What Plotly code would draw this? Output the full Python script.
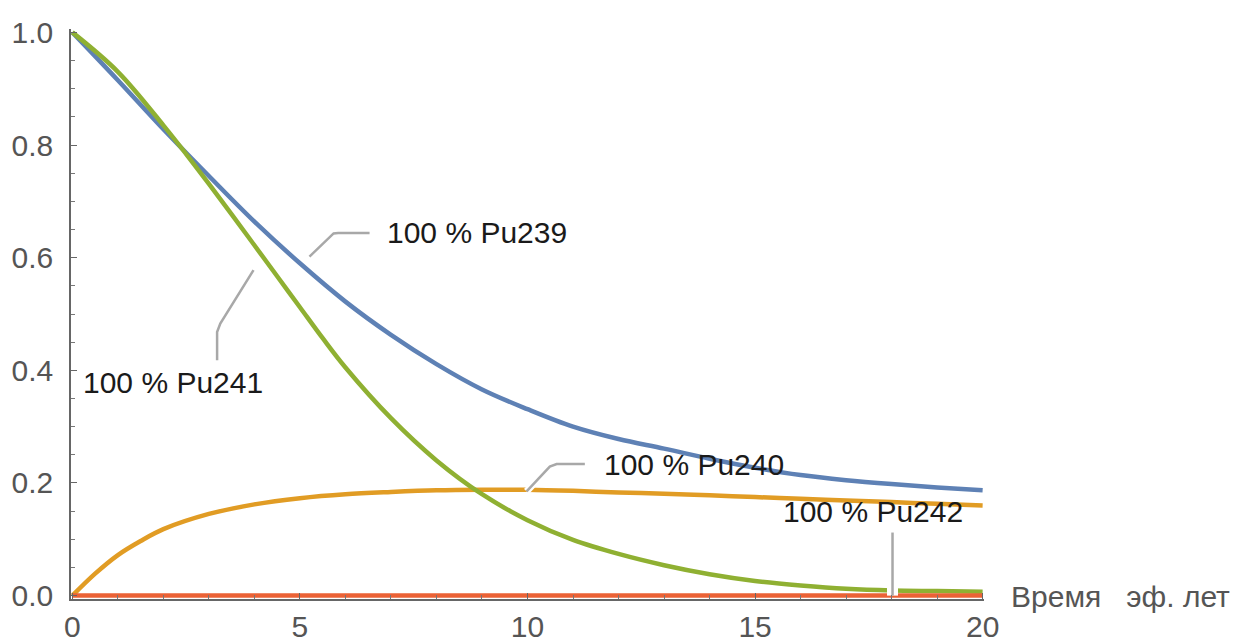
import plotly.graph_objects as go

# ---- data ----
t_years = [0, 1, 2, 3, 4, 5, 6, 7, 8, 9, 10, 11, 12, 13, 14, 15, 16, 17, 18, 19, 20]
pu239 = [1.0, 0.915, 0.828, 0.745, 0.664, 0.59, 0.522, 0.463, 0.411, 0.366, 0.331,
         0.30, 0.278, 0.261, 0.243, 0.227, 0.214, 0.205, 0.198, 0.192, 0.187]
t_pu241 = [0, 1, 2, 2.5, 3, 3.5, 4, 4.5, 5, 5.5, 6, 7, 8, 9, 10, 11, 12, 13, 14, 15, 16, 17, 18, 19, 20]
pu241 = [1.0, 0.93, 0.835, 0.784, 0.731, 0.677, 0.622, 0.567, 0.512, 0.457, 0.405, 0.315,
         0.24, 0.18, 0.134, 0.099, 0.074, 0.054, 0.038, 0.026, 0.018, 0.012, 0.009, 0.008, 0.007]
t_pu240 = [0, 0.5, 1, 1.5, 2, 3, 4, 5, 6, 7, 8, 9, 10, 11, 12, 13, 14, 15, 16, 17, 18, 19, 20]
pu240 = [0.0, 0.039, 0.072, 0.097, 0.118, 0.145, 0.162, 0.173, 0.180, 0.184, 0.187, 0.188,
         0.188, 0.186, 0.183, 0.181, 0.178, 0.175, 0.172, 0.169, 0.166, 0.163, 0.160]
pu242 = [0.0] * len(t_years)

labels = ["100 % Pu239", "100 % Pu241", "100 % Pu240", "100 % Pu242"]
label_x = [6.89, 0.22, 11.66, 15.59]
label_y = [0.644, 0.378, 0.232, 0.149]

leader_239_x = [5.21, 5.74, 5.84, 6.53]
leader_239_y = [0.602, 0.643, 0.644, 0.644]
leader_241_x = [3.98, 3.25, 3.18, 3.18]
leader_241_y = [0.578, 0.483, 0.468, 0.418]
leader_240_x = [9.98, 10.49, 10.64, 11.26]
leader_240_y = [0.185, 0.229, 0.2335, 0.2335]
leader_242_x = [18.02, 18.02]
leader_242_y = [0.112, 0.0]

x_ticks = [0, 5, 10, 15, 20]
y_ticks = [0.0, 0.2, 0.4, 0.6, 0.8, 1.0]
y_tick_text = ["0.0", "0.2", "0.4", "0.6", "0.8", "1.0"]
x_title = "Время\u00a0\u00a0\u00a0эф. лет"

BLUE = "#5E81B5"
ORANGE = "#E19C24"
GREEN = "#8FB032"
RED = "#EB6235"
LEADER = "#A8A8A8"
FONT = "Liberation Sans, Arial, sans-serif"

fig = go.Figure()

fig.add_trace(go.Scatter(x=t_years, y=pu239, mode="lines",
                         line=dict(color=BLUE, width=4.5, shape="spline", smoothing=1.0)))
fig.add_trace(go.Scatter(x=t_pu240, y=pu240, mode="lines",
                         line=dict(color=ORANGE, width=4.5, shape="spline", smoothing=1.0)))
fig.add_trace(go.Scatter(x=t_pu241, y=pu241, mode="lines",
                         line=dict(color=GREEN, width=4.5, shape="spline", smoothing=1.0)))
fig.add_trace(go.Scatter(x=t_years, y=pu242, mode="lines",
                         line=dict(color=RED, width=4.5)))

leaders = [(leader_239_x, leader_239_y, 7), (leader_241_x, leader_241_y, 7),
           (leader_240_x, leader_240_y, 7), (leader_242_x, leader_242_y, 11)]
for lx, ly, halo in leaders:
    fig.add_trace(go.Scatter(x=lx, y=ly, mode="lines",
                             line=dict(color="white", width=halo)))
    fig.add_trace(go.Scatter(x=lx, y=ly, mode="lines",
                             line=dict(color=LEADER, width=2.5)))

for txt, lx, ly in zip(labels, label_x, label_y):
    fig.add_annotation(x=lx, y=ly, xref="x", yref="y", text=txt, showarrow=False,
                       xanchor="left", yanchor="middle", borderpad=0,
                       font=dict(family=FONT, size=30, color="#1a1a1a"))

W, H = 1238, 642
x0_px, x1_px = 72, 983
y0_px, y1_px = 596, 32
xr = [-0.03, 20.03]
yr = [-0.006, 1.006]
ppx = (x1_px - x0_px) / 20.0
ppy = (y0_px - y1_px) / 1.0
left = x0_px + xr[0] * ppx
right = x0_px + xr[1] * ppx
top = y1_px - (yr[1] - 1.0) * ppy
bottom = y0_px - yr[0] * ppy

fig.add_annotation(x=(1009 - left) / (right - left), y=(bottom - 597) / (bottom - top),
                   xref="paper", yref="paper", text=x_title,
                   showarrow=False, xanchor="left", yanchor="middle",
                   font=dict(family=FONT, size=30, color="#555555"))

fig.update_layout(
    width=W, height=H,
    margin=dict(l=left, r=W - right, t=top, b=H - bottom, pad=0, autoexpand=False),
    paper_bgcolor="white", plot_bgcolor="white",
    showlegend=False,
    font=dict(family=FONT, size=30, color="#555555"),
    xaxis=dict(range=xr, tickvals=x_ticks, ticktext=[str(v) for v in x_ticks],
               automargin=False,
               showgrid=False, zeroline=False, showline=True, linecolor="#666666",
               linewidth=1.5, ticks="inside", ticklen=6, tickwidth=1.2, tickcolor="#666666",
               minor=dict(ticks="inside", dtick=1, ticklen=4, tickwidth=1, tickcolor="#777777"),
               layer="above traces",
               tickfont=dict(family=FONT, size=30, color="#555555"), ticklabelstandoff=0),
    yaxis=dict(range=yr, tickvals=y_ticks, ticktext=y_tick_text,
               automargin=False,
               showgrid=False, zeroline=False, showline=True, linecolor="#666666",
               linewidth=1.5, ticks="inside", ticklen=6, tickwidth=1.2, tickcolor="#666666",
               minor=dict(ticks="inside", dtick=0.05, ticklen=4, tickwidth=1, tickcolor="#777777"),
               tickfont=dict(family=FONT, size=30, color="#555555"), ticklabelstandoff=10),
)

fig.write_html(
    "out.html",
    config={"displayModeBar": False},
    post_script="document.body.style.margin='0';document.body.style.overflow='hidden';",
)
